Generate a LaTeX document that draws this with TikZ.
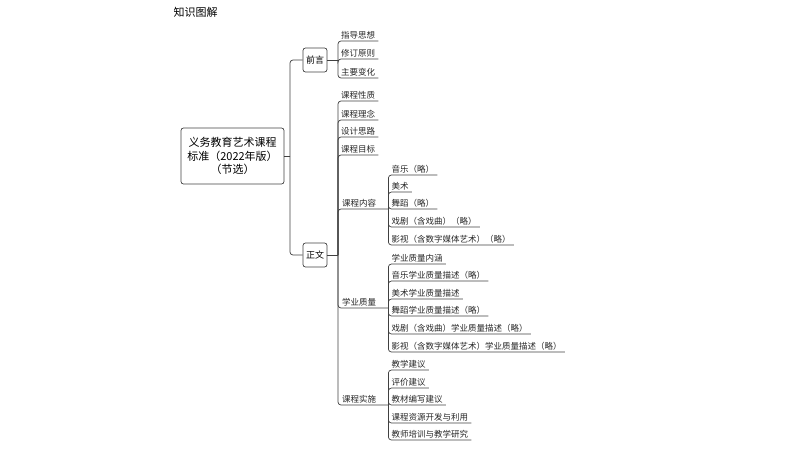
\documentclass[tikz,border=0pt]{standalone}
\usepackage{fontspec}
\setmainfont{Noto Sans CJK SC}
\begin{document}
\begin{tikzpicture}[x=1pt,y=-1pt,
  conn/.style={draw=black!75,line width=0.7pt,rounded corners=3pt},
  leaf/.style={anchor=south west,inner xsep=3pt,inner ysep=1.5pt,font=\fontsize{8.5}{10}\selectfont,text=black!85},
  mid/.style={leaf,minimum width=50pt,align=left,text width=42pt},
  boxn/.style={draw=black!75,line width=0.7pt,rounded corners=2.5pt,font=\fontsize{9}{11}\selectfont,inner sep=3pt,minimum height=24pt},
]
\useasboundingbox (0,0) rectangle (800,450);
\node[anchor=west,font=\fontsize{11}{13}\selectfont] (title) at (170,12) {知识图解};
\node[boxn,minimum width=103pt,minimum height=56pt,align=center,font=\fontsize{11}{13.5}\selectfont] (root) at (232.5,156) {义务教育艺术课程\\标准（2022年版）\\（节选）};
\node[boxn] (qy) at (315,60) {前言};
\node[boxn] (zw) at (315,255) {正文};
\coordinate (rj) at (290,156);
\draw[conn] (root.east) -- (rj);
\draw[conn] (rj) |- (qy.west);
\draw[conn] (rj) |- (zw.west);
\coordinate (qj) at (338,60);
\coordinate (zj) at (338,255);
\draw[conn] (qy.east) -- (qj);
\draw[conn] (zw.east) -- (zj);
\newcommand\lf[5][leaf]{%
  \node[#1] (#2) at (#3 |- 0,#4) {#5};
  \draw[conn] (#3) |- (#2.south east);}
\lf{a1}{qj}{41}{指导思想}
\lf{a2}{qj}{59}{修订原则}
\lf{a3}{qj}{78}{主要变化}
\lf{b1}{zj}{101}{课程性质}
\lf{b2}{zj}{120}{课程理念}
\lf{b3}{zj}{137}{设计思路}
\lf{b4}{zj}{155}{课程目标}
\lf[mid]{b5}{zj}{209}{课程内容}
\lf[mid]{b6}{zj}{308}{学业质量}
\lf[mid]{b7}{zj}{405}{课程实施}
\coordinate (cj) at (b5.south east);
\coordinate (dj) at (b6.south east);
\coordinate (ej) at (b7.south east);
\lf{c1}{cj}{175}{音乐（略）}
\lf{c2}{cj}{192}{美术}
\lf{c3}{cj}{209}{舞蹈（略）}
\lf{c4}{cj}{227}{戏剧（含戏曲）（略）}
\lf{c5}{cj}{245}{影视（含数字媒体艺术）（略）}
\lf{d1}{dj}{264}{学业质量内涵}
\lf{d2}{dj}{281}{音乐学业质量描述（略）}
\lf{d3}{dj}{299}{美术学业质量描述}
\lf{d4}{dj}{316}{舞蹈学业质量描述（略）}
\lf{d5}{dj}{334}{戏剧（含戏曲）学业质量描述（略）}
\lf{d6}{dj}{352}{影视（含数字媒体艺术）学业质量描述（略）}
\lf{e1}{ej}{370}{教学建议}
\lf{e2}{ej}{388}{评价建议}
\lf{e3}{ej}{405}{教材编写建议}
\lf{e4}{ej}{423}{课程资源开发与利用}
\lf{e5}{ej}{440}{教师培训与教学研究}
\end{tikzpicture}
\end{document}
